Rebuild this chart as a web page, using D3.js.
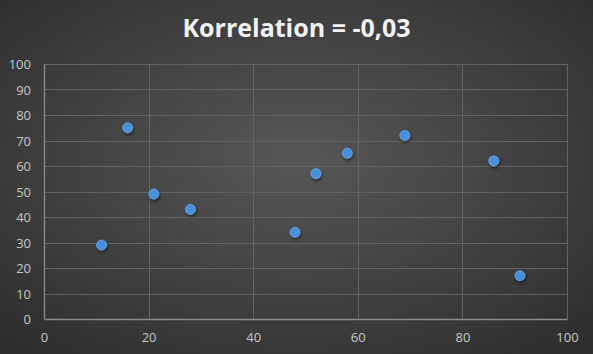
<!DOCTYPE html>
<html>
<head>
<meta charset="utf-8">
<script src="https://cdn.jsdelivr.net/npm/d3@7"></script>
<style>
  body { margin: 0; background: #3a3a3a; }
  #graph svg { display: block; }
</style>
</head>
<body>
<div id="graph"></div>
<script>
// data
const xValues = [11, 16, 21, 28, 48, 52, 58, 69, 86, 91];
const yValues = [29, 75, 49, 43, 34, 57, 65, 72, 62, 17];
const xTicks = [0, 20, 40, 60, 80, 100];
const yTicks = [0, 10, 20, 30, 40, 50, 60, 70, 80, 90, 100];
const title = "Korrelation = -0,03";

const W = 593, H = 354;
const margin = { top: 64, right: 26, bottom: 35, left: 44 },
  width = W - margin.left - margin.right,
  height = H - margin.top - margin.bottom;

const svg = d3.select("#graph")
  .append("svg")
  .attr("width", W)
  .attr("height", H);

const defs = svg.append("defs");
const bg = defs.append("radialGradient")
  .attr("id", "bg")
  .attr("cx", "50%").attr("cy", "45%").attr("r", "70%");
bg.append("stop").attr("offset", "0%").attr("stop-color", "#575757");
bg.append("stop").attr("offset", "100%").attr("stop-color", "#2e2e2e");

const shadow = defs.append("filter").attr("id", "shadow")
  .attr("x", "-50%").attr("y", "-50%").attr("width", "200%").attr("height", "200%");
shadow.append("feDropShadow")
  .attr("dx", 1).attr("dy", 2).attr("stdDeviation", 1.5)
  .attr("flood-color", "#000").attr("flood-opacity", 0.5);

svg.append("rect").attr("width", W).attr("height", H).attr("fill", "url(#bg)");

svg.append("text")
  .attr("x", 296.5)
  .attr("y", 37)
  .attr("text-anchor", "middle")
  .attr("font-family", "'Open Sans', sans-serif")
  .attr("font-weight", "bold")
  .attr("font-size", 25)
  .attr("fill", "#f2f2f2")
  .text(title);

const g = svg.append("g")
  .attr("transform", "translate(" + margin.left + "," + margin.top + ")");

const x = d3.scaleLinear().domain([0, 100]).range([0, width]);
const y = d3.scaleLinear().domain([0, 100]).range([height, 0]);

//gridlines
g.append("g")
  .selectAll("line.h")
  .data(yTicks.slice(1))
  .join("line")
  .attr("x1", 0).attr("x2", width)
  .attr("y1", d => Math.round(y(d)) + 0.5).attr("y2", d => Math.round(y(d)) + 0.5)
  .attr("stroke", "#636363").attr("stroke-width", 1);

g.append("g")
  .selectAll("line.v")
  .data(xTicks.slice(1))
  .join("line")
  .attr("y1", 0).attr("y2", height)
  .attr("x1", d => Math.round(x(d)) + 0.5).attr("x2", d => Math.round(x(d)) + 0.5)
  .attr("stroke", "#636363").attr("stroke-width", 1);

//axes
const xAxis = g.append("g")
  .attr("transform", "translate(0," + height + ")")
  .call(d3.axisBottom(x).tickValues(xTicks).tickSize(0).tickPadding(14));
const yAxis = g.append("g")
  .call(d3.axisLeft(y).tickValues(yTicks).tickSize(0).tickPadding(13));

[xAxis, yAxis].forEach(a => {
  a.select(".domain").attr("stroke", "#8c8c8c").attr("stroke-width", 1.3);
  a.selectAll("text")
    .attr("fill", "#c8c8c8")
    .attr("font-family", "'Open Sans', sans-serif")
    .attr("font-size", 13);
});
yAxis.selectAll("text").attr("dy", "0.36em");

//points
g.append("g")
  .selectAll("circle")
  .data(xValues.map((v, i) => ({ x: v, y: yValues[i] })))
  .join("circle")
  .attr("cx", d => x(d.x))
  .attr("cy", d => y(d.y))
  .attr("r", 5)
  .attr("fill", "#4a90dc")
  .attr("stroke", "#6aa8e8")
  .attr("stroke-width", 0.8)
  .attr("filter", "url(#shadow)");
</script>
</body>
</html>
